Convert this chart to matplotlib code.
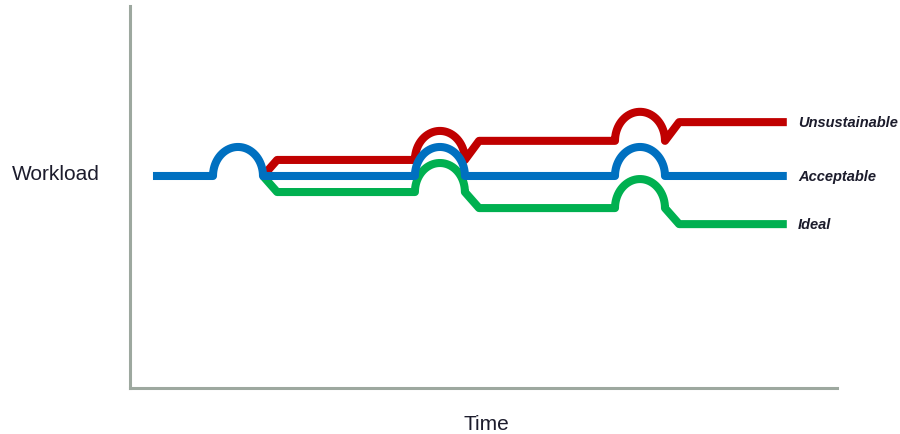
import numpy as np
import matplotlib.pyplot as plt

plt.rcParams['font.family'] = ['Liberation Sans', 'DejaVu Sans']

# time where each workload spike begins, and the spike shape
bump_starts = [11.74, 40.3, 68.6]
bump_width = 7.07
bump_height = 0.76
ramp = 2.0

t_first = 3.25
t_last = 92.9
base_level = 5.55

# levels reached after each spike
red_levels = [5.97, 6.47, 6.96]
green_levels = [5.13, 4.71, 4.29]
blue_levels = [5.55, 5.55, 5.55, 5.55]

names = ["Unsustainable", "Acceptable", "Ideal"]
colors = {"Unsustainable": "#C00000", "Acceptable": "#0070C0", "Ideal": "#00B050"}


def trace(x0, y0, levels, bumps):
    xs, ys = [x0], [y0]
    for i, lvl in enumerate(levels):
        if lvl != ys[-1]:
            xs.append(xs[-1] + ramp)
            ys.append(lvl)
        if i < len(bumps):
            b = bumps[i]
            th = np.linspace(np.pi, 0, 40)
            xs.extend(b + bump_width / 2 * (1 + np.cos(th)))
            ys.extend(lvl + bump_height * np.sin(th))
        else:
            xs.append(t_last)
            ys.append(lvl)
    return xs, ys


paths = {
    "Acceptable": trace(t_first, base_level, blue_levels, bump_starts),
    "Unsustainable": trace(bump_starts[0] + bump_width, base_level, red_levels, bump_starts[1:]),
    "Ideal": trace(bump_starts[0] + bump_width, base_level, green_levels, bump_starts[1:]),
}

fig = plt.figure(figsize=(9, 4.35), dpi=100)
ax = fig.add_axes([130 / 900, 46 / 435, 707 / 900, 382 / 435])

for name in ["Ideal", "Unsustainable", "Acceptable"]:
    xs, ys = paths[name]
    ax.plot(xs, ys, color=colors[name], linewidth=5.8,
            solid_capstyle='butt', solid_joinstyle='round')

for name in names:
    ys = paths[name][1]
    ax.text(94.5, ys[-1], name, fontsize=10.5, fontweight='bold', fontstyle='italic',
            color='#1c1c2c', ha='left', va='center')

ax.set_xlim(0, 100)
ax.set_ylim(0, 10)
ax.set_xticks([])
ax.set_yticks([])
for side in ['top', 'right']:
    ax.spines[side].set_visible(False)
for side in ['left', 'bottom']:
    ax.spines[side].set_color('#9DA89F')
    ax.spines[side].set_linewidth(2.2)

fig.text(56 / 900, 1 - 175 / 435, "Workload", fontsize=15, color='#1c1c2c',
         ha='center', va='center')
fig.text(486 / 900, 1 - 425 / 435, "Time", fontsize=15, color='#1c1c2c',
         ha='center', va='center')

fig.savefig("out.png", dpi=100)
